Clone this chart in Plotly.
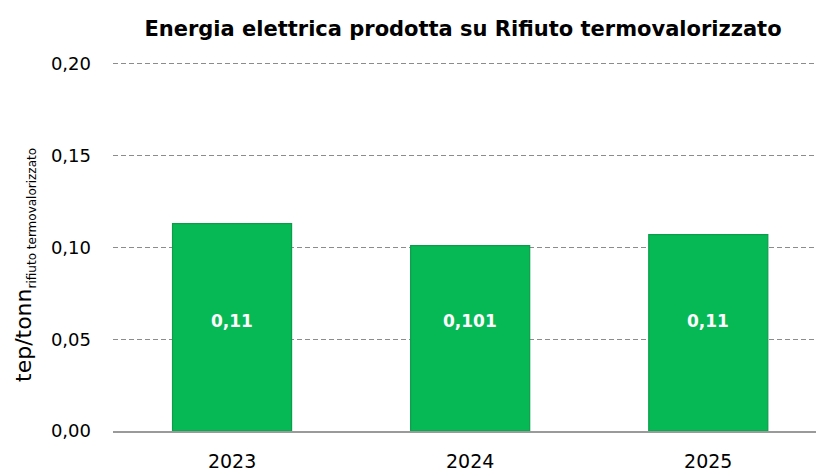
import plotly.graph_objects as go

years = ["2023", "2024", "2025"]
values = [0.113, 0.101, 0.107]
labels = ["0,11", "0,101", "0,11"]
y_ticks = [0.0, 0.05, 0.10, 0.15, 0.20]
y_tick_text = ["0,00", "0,05", "0,10", "0,15", "0,20"]

FONT = "DejaVu Sans"
# page body has an 8px margin; figure size / margins compensate for it
W, H = 816, 463
ML, MT, MB = 105, 54, 40
PW = W - ML
PH = H - MT - MB

fig = go.Figure()
fig.add_trace(go.Bar(
    x=list(range(len(years))),
    y=values,
    width=0.5,
    marker=dict(color="#07B955", line=dict(color="#0A9E4A", width=1.2)),
    hoverinfo="skip",
))

for i, t in enumerate(labels):
    fig.add_annotation(x=i, y=0.06, text="<b>" + t + "</b>", showarrow=False,
                       font=dict(family=FONT, size=17, color="white"),
                       xanchor="center", yanchor="middle")

fig.add_annotation(xref="paper", yref="paper", x=(17 - ML) / PW, y=1 - (257 - MT) / PH,
                   text='tep/tonn<sub><span style="font-size:12px">rifiuto termovalorizzato</span></sub>',
                   textangle=-90, showarrow=False,
                   font=dict(family=FONT, size=22, color="black"),
                   xanchor="center", yanchor="middle")

fig.update_layout(
    width=W, height=H,
    margin=dict(l=ML, r=0, t=MT, b=MB),
    paper_bgcolor="white", plot_bgcolor="white",
    showlegend=False,
    title=dict(text="<b>Energia elettrica prodotta su Rifiuto termovalorizzato</b>",
               x=455 / W, xanchor="center", xref="container",
               y=1 - 21 / H, yanchor="middle", yref="container",
               font=dict(family=FONT, size=21, color="black")),
    xaxis=dict(range=[-0.5, 2.486], tickvals=list(range(len(years))), ticktext=years,
               showgrid=False, zeroline=False, showline=True, linecolor="#9a9a9a", linewidth=2,
               tickfont=dict(family=FONT, size=19, color="black"), ticks="", ticklabelstandoff=12),
    yaxis=dict(range=[0, 0.201], tickvals=y_ticks, ticktext=y_tick_text,
               showgrid=True, gridcolor="#8c8c8c", griddash="5px,3px", gridwidth=1,
               zeroline=False, showline=False,
               tickfont=dict(family=FONT, size=18, color="black"), ticks="", ticklabelstandoff=21),
)

fig.write_html("out.html")
